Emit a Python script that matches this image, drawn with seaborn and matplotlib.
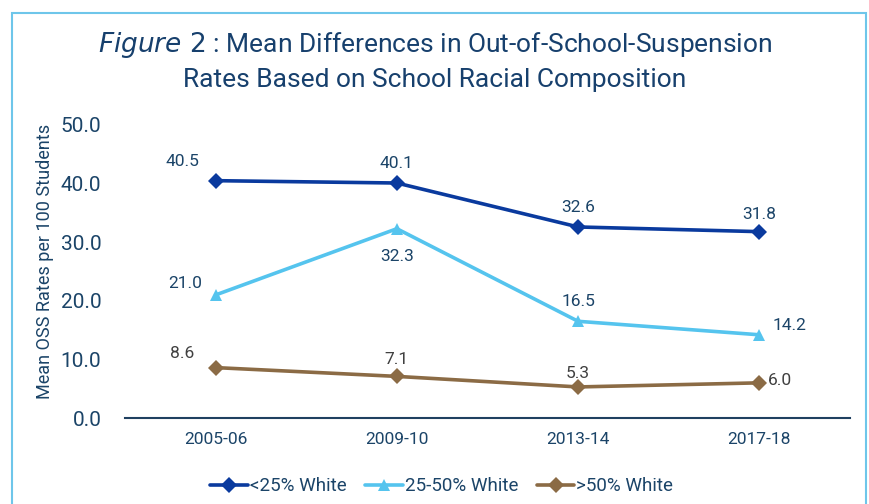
import matplotlib
matplotlib.use("Agg")
import matplotlib.pyplot as plt
import seaborn as sns
import pandas as pd
from matplotlib.patches import Rectangle

years = ["2005-06", "2009-10", "2013-14", "2017-18"]
s_lt25 = [40.5, 40.1, 32.6, 31.8]
s_25_50 = [21.0, 32.3, 16.5, 14.2]
s_gt50 = [8.6, 7.1, 5.3, 6.0]
series_names = ["<25% White", "25-50% White", ">50% White"]
yticks = [0, 10, 20, 30, 40, 50]

sns.set_theme(style="white")
plt.rcParams['font.family'] = ['Roboto', 'DejaVu Sans']

navy = "#1B4468"
colors = {"<25% White": "#0A3A9E", "25-50% White": "#55C4EE", ">50% White": "#8B6B45"}
markers = {"<25% White": "D", "25-50% White": "^", ">50% White": "D"}

rows = []
for name, vals in zip(series_names, [s_lt25, s_25_50, s_gt50]):
    for i, (y, v) in enumerate(zip(years, vals)):
        rows.append({"Year": y, "x": i, "Value": v, "Series": name})
df = pd.DataFrame(rows)

fig = plt.figure(figsize=(8.7, 5.04), dpi=100)
ax = fig.add_axes([125/870, 1 - 418/504, (850-125)/870, (418-125)/504])

sns.lineplot(data=df, x="x", y="Value", hue="Series", style="Series",
             palette=colors, markers=markers, dashes=False, linewidth=2.6,
             markersize=8, markeredgewidth=0, ax=ax)

ax.set_xlim(-0.5, 3.5)
ax.set_ylim(0, 50)
ax.set_xticks(range(len(years)))
ax.set_xticklabels(years, fontsize=12.5, color=navy)
ax.set_yticks(yticks)
ax.set_yticklabels([f"{t:.1f}" for t in yticks], fontsize=15, color=navy)
ax.tick_params(axis='both', length=0)
ax.tick_params(axis='x', pad=10)
ax.tick_params(axis='y', pad=17)
ax.set_xlabel("")
ax.set_ylabel("Mean OSS Rates per 100 Students", fontsize=13, color=navy)
ax.yaxis.set_label_coords(-0.098, 0.535)
for s in ["top", "right", "left"]:
    ax.spines[s].set_visible(False)
ax.spines["bottom"].set_color("#1F4060")
ax.spines["bottom"].set_linewidth(1.5)

# data labels (offsets in points)
lbl_navy = navy
lbl_gray = "#404040"
off1 = [(-24, 14), (0, 14), (0, 14), (0, 12)]
off2 = [(-22, 8), (0, -20), (0, 14), (22, 7)]
off3 = [(-24, 10), (0, 12), (0, 10), (15, 2)]
for vals, offs, col in [(s_lt25, off1, lbl_navy), (s_25_50, off2, lbl_navy), (s_gt50, off3, lbl_gray)]:
    for i, v in enumerate(vals):
        ax.annotate(f"{v:.1f}", (i, v), xytext=offs[i], textcoords="offset points",
                    ha="center", va="center", fontsize=12.5, color=col)

# legend
h, l = ax.get_legend_handles_labels()
ax.legend(h, l, loc="upper center", bbox_to_anchor=(0.437, -0.145), ncol=3, frameon=False,
          fontsize=13.5, labelcolor=navy, handlelength=2.0, handletextpad=0.1, columnspacing=1.0)

fig.text(0.5, 1 - 45/504, r"$\it{Figure\ 2}$ : Mean Differences in Out-of-School-Suspension",
         ha="center", va="center", fontsize=19, color="#17406D")
fig.text(0.5, 1 - 80/504, "Rates Based on School Racial Composition",
         ha="center", va="center", fontsize=19, color="#17406D")

# border
fig.patches.append(Rectangle((12/870, -0.05), (866-12)/870, (1 - 13/504) + 0.05,
                             transform=fig.transFigure, fill=False,
                             edgecolor="#6EC6EA", linewidth=1.5))

fig.savefig("out.png", dpi=100)
